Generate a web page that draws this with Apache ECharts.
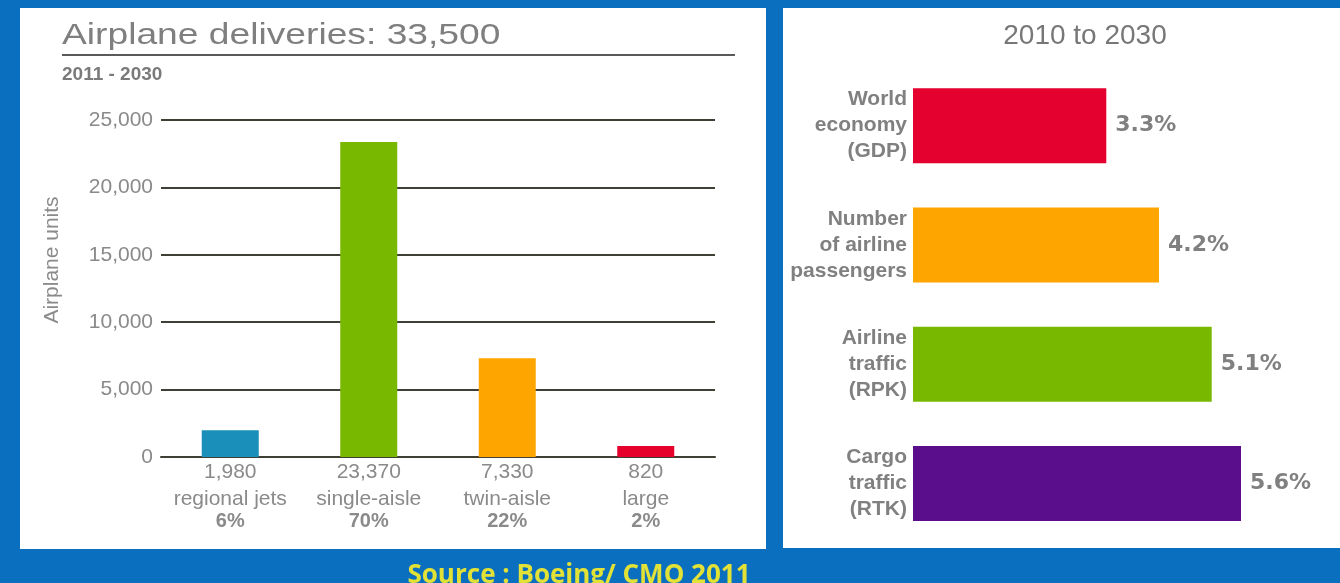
<!DOCTYPE html>
<html>
<head>
<meta charset="utf-8">
<script src="https://cdn.jsdelivr.net/npm/echarts@6/dist/echarts.min.js"></script>
<style>
html,body{margin:0;padding:0;background:#0b6fc0;}
#c{width:1340px;height:583px;}
</style>
</head>
<body>
<div id="c"></div>
<script>
// ---- Data ----
const deliveryCategories = ['regional jets', 'single-aisle', 'twin-aisle', 'large'];
const deliveryValues = [1980, 23370, 7330, 820];
const deliveryShares = ['6%', '70%', '22%', '2%'];
const deliveryTicks = [0, 5000, 10000, 15000, 20000, 25000];

const growthCategories = ['World\neconomy\n(GDP)', 'Number\nof airline\npassengers', 'Airline\ntraffic\n(RPK)', 'Cargo\ntraffic\n(RTK)'];
const growthValues = [3.3, 4.2, 5.1, 5.6];

const deliveryColors = ['#1a8fb9', '#78b800', '#fea500', '#e6002c'];
const growthColors = ['#e4002f', '#fea500', '#78b800', '#5a0e8b'];

const sans = "'Liberation Sans', Arial, sans-serif";

const chart = echarts.init(document.getElementById('c'), null, {renderer: 'canvas'});

const option = {
  backgroundColor: '#0b6fc0',
  animation: false,
  graphic: [
    {type: 'rect', shape: {x: 20, y: 8, width: 746, height: 541}, style: {fill: '#ffffff'}, z: -10},
    {type: 'rect', shape: {x: 783, y: 8, width: 560, height: 540}, style: {fill: '#ffffff'}, z: -10},
    {type: 'text', x: 62, y: 21, scaleX: 1.24, style: {text: 'Airplane deliveries: 33,500', fill: '#7f7f7f', font: "30px " + sans, textVerticalAlign: 'top'}},
    {type: 'line', shape: {x1: 62, y1: 55, x2: 735, y2: 55}, style: {stroke: '#5a5a5a', lineWidth: 2}},
    {type: 'text', x: 62, y: 75, style: {text: '2011 - 2030', fill: '#7a7a7a', font: "bold 19px " + sans, textVerticalAlign: 'middle'}},
    {type: 'text', x: 1085, y: 36, style: {text: '2010 to 2030', fill: '#777777', font: "28px " + sans, textAlign: 'center', textVerticalAlign: 'middle'}},
    {type: 'text', x: 52, y: 260, rotation: Math.PI / 2, style: {text: 'Airplane units', fill: '#8a8a8a', font: "21px " + sans, textAlign: 'center', textVerticalAlign: 'middle'}},
    {type: 'text', x: 579, y: 563, style: {text: 'Source : Boeing/ CMO 2011', fill: '#e2e136', font: "bold 26px 'Open Sans', sans-serif", textAlign: 'center', textVerticalAlign: 'top'}}
  ],
  grid: [
    {left: 161, top: 120, width: 554, height: 337},
    {left: 913, top: 66, width: 410, height: 477}
  ],
  xAxis: [
    {
      gridIndex: 0, type: 'category', data: deliveryCategories,
      axisLine: {show: true, lineStyle: {color: '#3f3f35', width: 2}},
      axisTick: {show: false},
      axisLabel: {
        margin: 3,
        interval: 0,
        formatter: function (name, idx) {
          return '{v|' + deliveryValues[idx].toLocaleString('en-US') + '}\n{n|' + name + '}\n{p|' + deliveryShares[idx] + '}';
        },
        rich: {
          v: {fontSize: 21, fontFamily: sans, color: '#8a8a8a', lineHeight: 25},
          n: {fontSize: 21, fontFamily: sans, color: '#8a8a8a', lineHeight: 28},
          p: {fontSize: 20, fontFamily: sans, color: '#8a8a8a', lineHeight: 17, fontWeight: 'bold'}
        }
      }
    },
    {
      gridIndex: 1, type: 'value', min: 0, max: 7,
      show: false
    }
  ],
  yAxis: [
    {
      gridIndex: 0, type: 'value', min: 0, max: 25000, interval: 5000,
      axisLine: {show: false}, axisTick: {show: false},
      axisLabel: {
        margin: 8, color: '#8a8a8a', fontSize: 21, fontFamily: sans,
        formatter: function (v) { return deliveryTicks.indexOf(v) >= 0 ? v.toLocaleString('en-US') : ''; }
      },
      splitLine: {show: true, lineStyle: {color: '#3f3f35', width: 2}}
    },
    {
      gridIndex: 1, type: 'category', data: growthCategories, inverse: true,
      axisLine: {show: false}, axisTick: {show: false},
      axisLabel: {
        margin: 6, color: '#808080', fontSize: 21, fontWeight: 'bold', fontFamily: sans, lineHeight: 26, align: 'right'
      }
    }
  ],
  series: [
    {
      type: 'bar', xAxisIndex: 0, yAxisIndex: 0, barWidth: 57,
      data: deliveryValues.map((v, i) => ({value: v, itemStyle: {color: deliveryColors[i]}})),
      z: 3
    },
    {
      type: 'bar', xAxisIndex: 1, yAxisIndex: 1, barWidth: 75,
      data: growthValues.map((v, i) => ({value: v, itemStyle: {color: growthColors[i]}})),
      label: {
        show: true, position: 'right', distance: 9,
        formatter: p => p.value.toFixed(1) + '%',
        color: '#808080', fontSize: 22, fontWeight: 'bold', fontFamily: "'DejaVu Sans', sans-serif"
      }
    }
  ]
};
chart.setOption(option);
</script>
</body>
</html>
